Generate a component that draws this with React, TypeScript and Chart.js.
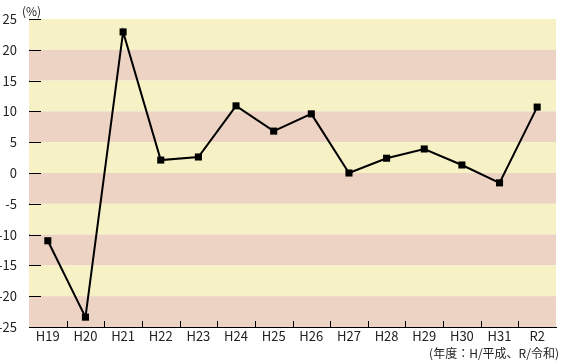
import React, { useEffect, useRef } from "react";
import { Chart, registerables } from "chart.js";

Chart.register(...registerables);

const categories = ["H19", "H20", "H21", "H22", "H23", "H24", "H25", "H26", "H27", "H28", "H29", "H30", "H31", "R2"];
const values = [-11.0, -23.4, 22.9, 2.1, 2.6, 10.9, 6.8, 9.6, 0.0, 2.4, 3.9, 1.3, -1.6, 10.7];
const yTicks = [25, 20, 15, 10, 5, 0, -5, -10, -15, -20, -25];
const bandColors = ["#f7f2c6", "#ecd3c4"];
const FONT = '"Noto Sans CJK JP", "Noto Sans", sans-serif';

const bgPlugin = {
  id: "bands",
  beforeDatasetsDraw(chart: any) {
    const { ctx, chartArea, scales } = chart;
    const y = scales.y;
    const x = scales.x;
    ctx.save();
    for (let i = 0; i < yTicks.length - 1; i++) {
      const top = y.getPixelForValue(yTicks[i]);
      const bot = y.getPixelForValue(yTicks[i + 1]);
      ctx.fillStyle = bandColors[i % 2];
      ctx.fillRect(chartArea.left, top, chartArea.right - chartArea.left, bot - top);
    }
    ctx.strokeStyle = "#000";
    ctx.lineWidth = 1;
    for (const t of yTicks) {
      const py = Math.round(y.getPixelForValue(t)) + 0.5;
      ctx.beginPath();
      ctx.moveTo(chartArea.left, py);
      ctx.lineTo(chartArea.left + 12, py);
      ctx.stroke();
    }
    for (let i = 1; i < categories.length; i++) {
      const px = Math.round((x.getPixelForValue(i - 1) + x.getPixelForValue(i)) / 2) + 0.5;
      ctx.beginPath();
      ctx.moveTo(px, chartArea.bottom);
      ctx.lineTo(px, chartArea.bottom - 6);
      ctx.stroke();
    }
    ctx.restore();
  },
};

export default function App() {
  const ref = useRef<HTMLCanvasElement | null>(null);
  useEffect(() => {
    document.body.style.margin = "0";
    const chart = new Chart(ref.current as HTMLCanvasElement, {
      type: "line",
      data: {
        labels: categories,
        datasets: [
          {
            data: values,
            borderColor: "#000",
            backgroundColor: "#000",
            borderWidth: 2,
            pointStyle: "rect",
            pointRadius: 5,
            pointBorderWidth: 0,
            tension: 0,
          },
        ],
      },
      options: {
        animation: false,
        responsive: false,
        layout: { padding: { top: 19, right: 2, left: 0, bottom: 0 } },
        plugins: { legend: { display: false }, tooltip: { enabled: false } },
        scales: {
          x: {
            type: "category",
            offset: true,
            grid: { display: false },
            border: { display: true, color: "#000", width: 1 },
            ticks: { color: "#222", font: { family: FONT, size: 13, lineHeight: 1 }, padding: -5, maxRotation: 0, autoSkip: false },
            afterFit(s: any) {
              s.height = 37;
            },
          },
          y: {
            min: -25,
            max: 25,
            grid: { display: false },
            border: { display: true, color: "#000", width: 1 },
            ticks: { stepSize: 5, color: "#222", font: { family: FONT, size: 13 }, padding: 4 },
            afterFit(s: any) {
              s.width = 29;
            },
          },
        },
      },
      plugins: [bgPlugin],
    });
    return () => chart.destroy();
  }, []);
  return (
    <div style={{ position: "fixed", left: 0, top: 0, width: 561, height: 364 }}>
      <canvas ref={ref} width={561} height={364} style={{ display: "block" }} />
      <span style={{ position: "absolute", left: 22, top: 4, fontFamily: FONT, fontSize: 12, lineHeight: "13px", color: "#222" }}>(%)</span>
      <span style={{ position: "absolute", right: 2, top: 346, fontFamily: FONT, fontSize: 12, lineHeight: "13px", color: "#222" }}>(年度：H/平成、R/令和)</span>
    </div>
  );
}
